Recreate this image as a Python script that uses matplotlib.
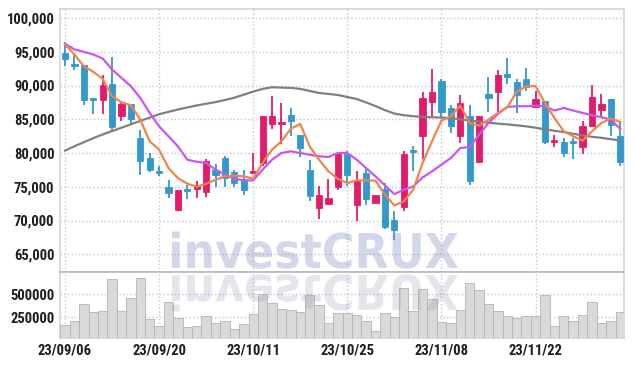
import matplotlib
matplotlib.use('Agg')
import matplotlib.pyplot as plt
import numpy as np
from matplotlib.textpath import TextPath
from matplotlib.patches import PathPatch
from matplotlib.font_manager import FontProperties
import matplotlib.transforms as mtransforms

# daily candles, 23/09/06 .. 23/12/05
opens = [94750, 93120, 92970, 88020, 87820, 90300, 85450, 87330, 82280, 79310,
         77280, 74950, 71490, 74600, 74660, 74160, 77530, 79260, 77230, 76190,
         77030, 78470, 84310, 84310, 85690, 82720, 77530, 71780, 72430, 74900,
         79850, 72230, 77030, 72580, 74700, 70070, 71930, 80350, 82480, 87530,
         90640, 86680, 82480, 85450, 78670, 88810, 89010, 91780, 90550, 91040,
         86830, 87770, 81630, 81590, 81590, 80840, 83960, 86340, 88070, 82480]
highs = [96450, 94600, 92970, 88100, 91630, 94260, 87400, 87330, 83370, 80000,
         78020, 75940, 74550, 75200, 75800, 79110, 78370, 79510, 77530, 77530,
         80000, 85550, 88420, 87430, 86680, 82720, 79010, 75050, 76190, 79850,
         80350, 77380, 77870, 73770, 75510, 71400, 80350, 80990, 89060, 92480,
         90990, 87180, 88660, 87080, 85550, 91240, 92230, 94010, 91040, 92530,
         89160, 87770, 82720, 82230, 82230, 84700, 90150, 88760, 88070, 84700]
lows = [92900, 92230, 87080, 85790, 85790, 83220, 84800, 84210, 76780, 77180,
        76540, 73320, 71400, 73170, 73320, 73470, 74900, 74900, 74900, 73770,
        77030, 78020, 83570, 81340, 82480, 79410, 72820, 70250, 72430, 74560,
        75050, 69950, 72330, 72580, 68730, 67100, 71440, 77380, 79160, 85300,
        85300, 82970, 81490, 75200, 78670, 86090, 85940, 90300, 85940, 89160,
        86830, 81390, 80890, 79410, 79160, 79900, 83960, 85450, 82480, 78120]
closes = [93860, 92870, 87920, 87820, 90150, 83810, 87330, 85050, 78860, 77430,
          77030, 74010, 74460, 74360, 75050, 78860, 76780, 76290, 75500, 74460,
          77280, 85550, 85550, 84600, 84700, 80700, 73570, 73810, 73320, 79850,
          76690, 75940, 73170, 73770, 69070, 68580, 79850, 80100, 88170, 89060,
          86090, 83960, 87430, 75790, 85550, 88170, 91630, 91290, 88570, 89750,
          88020, 81590, 81830, 80000, 81440, 84060, 88270, 87330, 84110, 78620]
volumes = [167000, 210000, 395000, 308000, 319000, 667000, 319000, 460000, 678000, 232000,
           156000, 413000, 243000, 145000, 156000, 261000, 188000, 210000, 123000, 177000,
           286000, 504000, 406000, 341000, 330000, 308000, 493000, 384000, 188000, 293000,
           293000, 272000, 210000, 101000, 297000, 254000, 565000, 315000, 554000, 446000,
           199000, 188000, 330000, 620000, 543000, 391000, 315000, 261000, 243000, 261000,
           261000, 493000, 152000, 261000, 210000, 275000, 413000, 185000, 210000, 308000]
ma5 = [96100, 94600, 92870, 92030, 90990, 88420, 87530, 87080, 84950, 81730,
       80500, 77770, 76290, 75450, 75000, 75450, 76040, 76540, 76640, 76540,
       76190, 78520, 80500, 81730, 83620, 84310, 80990, 79010, 77280, 76190,
       75550, 75940, 75940, 75900, 73810, 72230, 72820, 74560, 78520, 81730,
       84800, 85450, 87030, 84460, 84060, 84950, 85940, 86780, 89060, 89900,
       89900, 87430, 85200, 83220, 82480, 81830, 83220, 84460, 85100, 84600]
ma20 = [96190, 95350, 95000, 94600, 94010, 92380, 91140, 89900, 88170, 85940,
        83960, 82480, 80990, 79010, 78700, 78520, 77530, 76780, 76190, 75940,
        75940, 77530, 79010, 80000, 80250, 80000, 79750, 79510, 79410, 80000,
        80000, 79010, 77770, 76540, 75200, 73910, 74560, 75050, 76390, 77280,
        78270, 79260, 80740, 80890, 82720, 84460, 85790, 86830, 86930, 86930,
        87030, 86930, 86290, 86680, 86290, 85940, 85600, 85300, 84950, 83570]
ma60 = [80350, 81000, 81600, 82200, 82750, 83250, 83750, 84250, 84750, 85250,
        85750, 86100, 86450, 86750, 87050, 87300, 87550, 87850, 88200, 88650,
        89100, 89500, 89750, 89700, 89650, 89500, 89200, 88900, 88750, 88600,
        88300, 88000, 87500, 86950, 86350, 85850, 85600, 85450, 85350, 85300,
        85250, 85150, 85000, 84800, 84650, 84500, 84350, 84250, 84100, 83950,
        83750, 83500, 83300, 83100, 82850, 82600, 82400, 82250, 82050, 81850]
date_ticks = [0, 10, 20, 30, 40, 50]
date_labels = ['23/09/06', '23/09/20', '23/10/11', '23/10/25', '23/11/08', '23/11/22']
price_ticks = [65000, 70000, 75000, 80000, 85000, 90000, 95000, 100000]
vol_ticks = [250000, 500000]

UP = '#e31b6d'
DOWN = '#3398cc'
tick_font = ['Roboto Condensed', 'Roboto']

W, H = 634, 366
fig = plt.figure(figsize=(W / 100, H / 100), dpi=100)
ax = fig.add_axes([60 / W, 1 - 272 / H, 564 / W, 263 / H])
axv = fig.add_axes([60 / W, 1 - 337.5 / H, 564 / W, 65.5 / H], sharex=ax)

x = np.arange(len(opens))
o = np.array(opens); c = np.array(closes)
colors = [UP if cc >= oo else DOWN for oo, cc in zip(o, c)]
ax.vlines(x, lows, highs, colors=colors, linewidth=1.3, zorder=3)
body_bot = np.minimum(o, c)
body_h = np.maximum(np.abs(c - o), 280)
ax.bar(x, body_h, bottom=body_bot, width=0.66, color=colors, edgecolor=colors,
       linewidth=0.6, zorder=4)

ax.plot(x, ma60, color='#808080', linewidth=1.6, zorder=5)
ax.plot(x, ma20, color='#cc55ee', linewidth=1.6, zorder=5)
ax.plot(x, ma5, color='#f0844a', linewidth=1.6, zorder=5)

axv.bar(x, volumes, width=1.0, color='#d9d9d9', edgecolor='#b4b4b4', linewidth=0.6, zorder=3)

ax.set_xlim(-0.53, 59.4)
ax.set_ylim(62370, 101340)
axv.set_ylim(30000, 742000)

ax.set_yticks(price_ticks)
ax.set_yticklabels(['{:,}'.format(v) for v in price_ticks])
axv.set_yticks(vol_ticks)
axv.set_yticklabels([str(v) for v in vol_ticks])
axv.set_xticks(date_ticks)
axv.set_xticklabels(date_labels)
ax.tick_params(axis='x', labelbottom=False)

for a in (ax, axv):
    a.grid(True, linestyle=':', color='#c4c6dc', linewidth=1.0, zorder=0)
    a.set_axisbelow(True)
    a.tick_params(length=0, pad=4, labelsize=10.5, labelcolor='#1e1e1e')
    for lab in a.get_xticklabels() + a.get_yticklabels():
        lab.set_family(tick_font)
        lab.set_weight('bold')
    for s in a.spines.values():
        s.set_color('#d4d4d4')
        s.set_linewidth(1.2)
axv.spines['top'].set_color('#b8b8b8')

# watermark + reflection
fp = FontProperties(family='DejaVu Sans', weight='bold')
tp = TextPath((0, 0), 'investCRUX', size=100, prop=fp)
bb = tp.get_extents()
sx = (458 - 172) / bb.width
sy = 35 / 73.0
tr = mtransforms.Affine2D().translate(-bb.x0, 0).scale(sx, sy).translate(172, H - 268)
fig.add_artist(PathPatch(tp, transform=tr, facecolor='#7f8fc0', edgecolor='none',
                         alpha=0.35, zorder=10))
tr2 = mtransforms.Affine2D().translate(-bb.x0, 0).scale(sx, -sy).translate(172, H - 275)
fig.add_artist(PathPatch(tp, transform=tr2, facecolor='#8080a0', edgecolor='none',
                         alpha=0.2, zorder=10))

fig.savefig('out.png', dpi=100)
